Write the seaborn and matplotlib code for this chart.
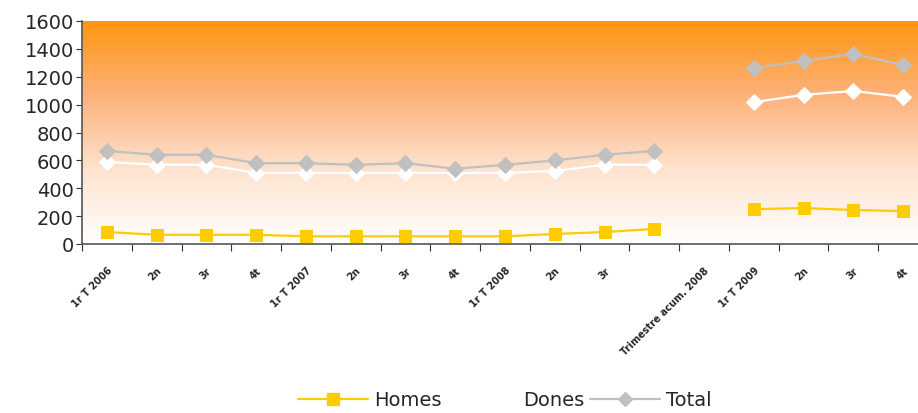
import numpy as np
import pandas as pd
import seaborn as sns
import matplotlib.pyplot as plt
from matplotlib.colors import LinearSegmentedColormap
from matplotlib.lines import Line2D

# trimestres (la posicio 13 queda buida al grafic)
trimestres = ["1r T 2006", "2n", "3r", "4t",
              "1r T 2007", "2n", "3r", "4t",
              "1r T 2008", "2n", "3r", "",
              "Trimestre acum. 2008",
              "1r T 2009", "2n", "3r", "4t"]
homes = [86, 66, 66, 66, 55, 55, 55, 55, 55, 72, 86, 108,
         np.nan, 250, 258, 244, 236]
dones = [588, 568, 568, 510, 510, 510, 510, 510, 510, 524, 568, 568,
         np.nan, 1018, 1070, 1098, 1056]
total = [668, 640, 640, 580, 580, 568, 580, 540, 568, 600, 640, 668,
         np.nan, 1262, 1313, 1363, 1285]

series = {"Homes": homes, "Dones": dones, "Total": total}
colors = {"Homes": "#FFCC00", "Dones": "#FFFFFF", "Total": "#C0C0C0"}
markers = {"Homes": "s", "Dones": "D", "Total": "D"}

sns.set_style("white")
plt.rcParams['font.family'] = ['DejaVu Sans']

fig = plt.figure(figsize=(9.18, 4.14), dpi=100)
ax = fig.add_axes([82 / 918, 169 / 414, 846 / 918, 223 / 414])

# fons en degradat taronja -> blanc
cmap = LinearSegmentedColormap.from_list("fons", ["#FFFFFF", "#FEE3CF", "#FDB27A", "#FF9612"],)
grad = np.linspace(0, 1, 256).reshape(-1, 1)
ax.imshow(grad, cmap=cmap, aspect="auto", origin="lower",
          extent=[-0.5, len(trimestres) - 0.5, 0, 1600], zorder=0)

pos = np.arange(len(trimestres))
for nom, vals in series.items():
    df = pd.DataFrame({"pos": pos, "val": vals})
    df["tram"] = (df["pos"] > 12).astype(int)
    df = df.dropna()
    for _, tros in df.groupby("tram"):
        sns.lineplot(data=tros, x="pos", y="val", ax=ax, color=colors[nom],
                     marker=markers[nom], markersize=8, markeredgecolor=colors[nom],
                     linewidth=1.6, zorder=3)

ax.set_xlim(-0.5, len(trimestres) - 0.5)
ax.set_ylim(0, 1600)
ax.set_yticks(range(0, 1601, 200))
ax.set_xlabel("")
ax.set_ylabel("")

ax.set_xticks(np.arange(-0.5, len(trimestres), 1))
ax.set_xticklabels([])
ax.set_xticks(pos, minor=True)
ax.set_xticklabels(trimestres, minor=True, rotation=45, ha="right",
                   rotation_mode="anchor", fontsize=7, fontweight="bold")
ax.tick_params(axis="x", which="minor", length=0, pad=15)
ax.tick_params(axis="x", which="major", length=5, direction="out", color="#333333")
ax.tick_params(axis="y", length=4, direction="out", color="#333333", labelsize=14, pad=2)
ax.tick_params(bottom=True, left=True)
ax.tick_params(axis="x", which="minor", bottom=False)

sns.despine(ax=ax)
for s in ["left", "bottom"]:
    ax.spines[s].set_color("#555555")
    ax.spines[s].set_linewidth(1.2)

handles = [Line2D([], [], color=colors[n], marker=markers[n], markersize=9 if n == "Homes" else 7,
                  markeredgecolor=colors[n], linewidth=1.6) for n in series]
fig.legend(handles, list(series.keys()), loc="center", bbox_to_anchor=(505 / 918, 1 - 401 / 414),
           ncol=3, frameon=False, fontsize=14, handlelength=3.6, columnspacing=0.3,
           handletextpad=0.3)

fig.savefig("out.png", dpi=100)
